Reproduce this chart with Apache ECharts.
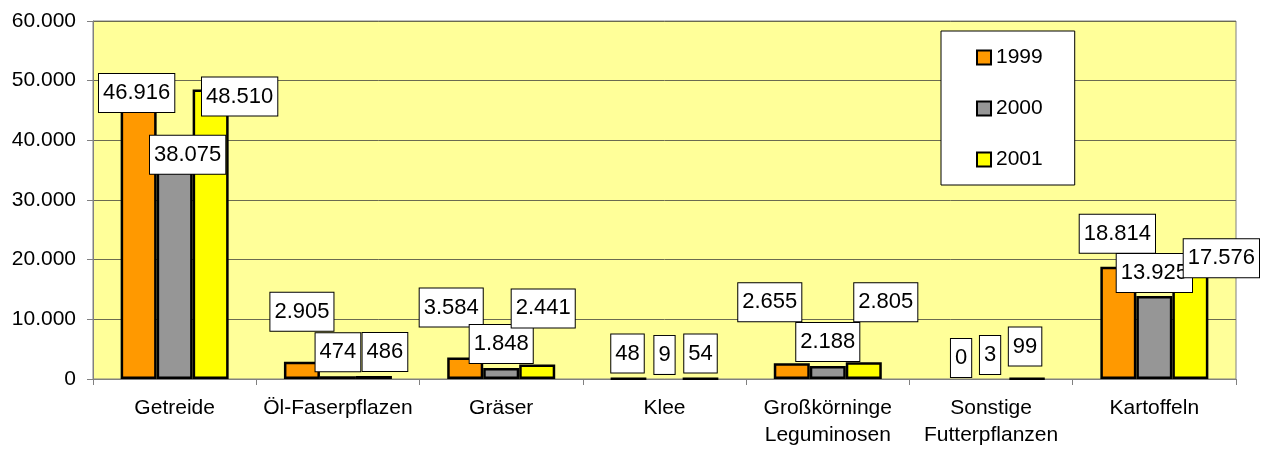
<!DOCTYPE html>
<html>
<head>
<meta charset="utf-8">
<script src="https://cdn.jsdelivr.net/npm/echarts@6/dist/echarts.min.js"></script>
<style>
html,body{margin:0;padding:0;background:#fff;}
#c{width:1266px;height:449px;}
</style>
</head>
<body>
<div id="c"></div>
<script>
const categories = ['Getreide', 'Öl-Faserpflazen', 'Gräser', 'Klee', 'Großkörninge\nLeguminosen', 'Sonstige\nFutterpflanzen', 'Kartoffeln'];
const years = ['1999', '2000', '2001'];
const values1999 = [46916, 2905, 3584, 48, 2655, 0, 18814];
const values2000 = [38075, 474, 1848, 9, 2188, 3, 13925];
const values2001 = [48510, 486, 2441, 54, 2805, 99, 17576];
const yTicks = [0, 10000, 20000, 30000, 40000, 50000, 60000];

// label box placement (pixel offsets of label centre from bar top centre)
const labelOffsets = [
  [[-2,-6],[0,-50],[-14,-50],[-1,-24],[-22,-61],[6,-21],[-1,-33]],
  [[13,3],[0,-24],[0,-24],[0,-24],[0,-24],[-1,-24],[0,-23]],
  [[29,7],[11,-24],[6,-56],[0,-24],[22,-60],[-2,-31],[31,-16]]
];
const colors = ['#FF9900', '#969696', '#FFFF00'];
const FONT = '"Liberation Sans", Arial, sans-serif';

function fmt(v) {
  return String(v).replace(/\B(?=(\d{3})+(?!\d))/g, '.');
}

const seriesValues = [values1999, values2000, values2001];
const series = seriesValues.map((vals, si) => ({
  name: years[si],
  type: 'bar',
  barWidth: 36,
  barGap: '0%',
  itemStyle: { color: colors[si], borderColor: '#000', borderWidth: 2.5 },
  emphasis: { disabled: true },
  data: vals.map((v, i) => ({
    value: v,
    itemStyle: v < 20 ? { borderWidth: 0 } : undefined,
    label: { offset: labelOffsets[si][i] }
  })),
  label: {
    show: true,
    position: 'top',
    distance: 0,
    align: 'center',
    verticalAlign: 'middle',
    formatter: p => fmt(p.value),
    fontFamily: FONT,
    fontSize: 22,
    lineHeight: 26,
    color: '#000',
    backgroundColor: '#fff',
    borderColor: '#000',
    borderWidth: 1,
    padding: [6, 4, 6, 4]
  },
  z: 2
}));

const chart = echarts.init(document.getElementById('c'), null, { renderer: 'canvas' });
chart.setOption({
  animation: false,
  backgroundColor: '#fff',
  grid: {
    left: 93, right: 30, top: 21, bottom: 69,
    show: true, backgroundColor: '#FFFF99', borderColor: '#808080', borderWidth: 1
  },
  legend: {
    data: years,
    orient: 'vertical',
    left: 941, top: 31,
    backgroundColor: '#fff',
    borderColor: '#000',
    borderWidth: 1,
    padding: [16, 32, 15, 35],
    itemWidth: 14, itemHeight: 14,
    itemGap: 30,
    icon: 'rect',
    itemStyle: { borderColor: '#000', borderWidth: 2 },
    textStyle: { fontFamily: FONT, fontSize: 21, color: '#000', lineHeight: 20 },
    selectedMode: false
  },
  xAxis: {
    type: 'category',
    data: categories,
    axisLine: { lineStyle: { color: '#808080', width: 1 } },
    axisTick: { show: true, length: 6, lineStyle: { color: '#808080' } },
    axisLabel: { interval: 0, fontFamily: FONT, fontSize: 21, color: '#000', lineHeight: 27, margin: 16 }
  },
  yAxis: {
    type: 'value',
    min: 0, max: 60000, interval: 10000,
    axisLine: { show: true, lineStyle: { color: '#808080', width: 1 } },
    axisTick: { show: true, length: 6, lineStyle: { color: '#808080' } },
    splitLine: { show: true, lineStyle: { color: '#6b6b50', width: 1 } },
    axisLabel: {
      fontFamily: FONT, fontSize: 21, color: '#000', margin: 17,
      formatter: v => yTicks.indexOf(v) >= 0 ? fmt(v) : ''
    }
  },
  series: series
});
</script>
</body>
</html>
